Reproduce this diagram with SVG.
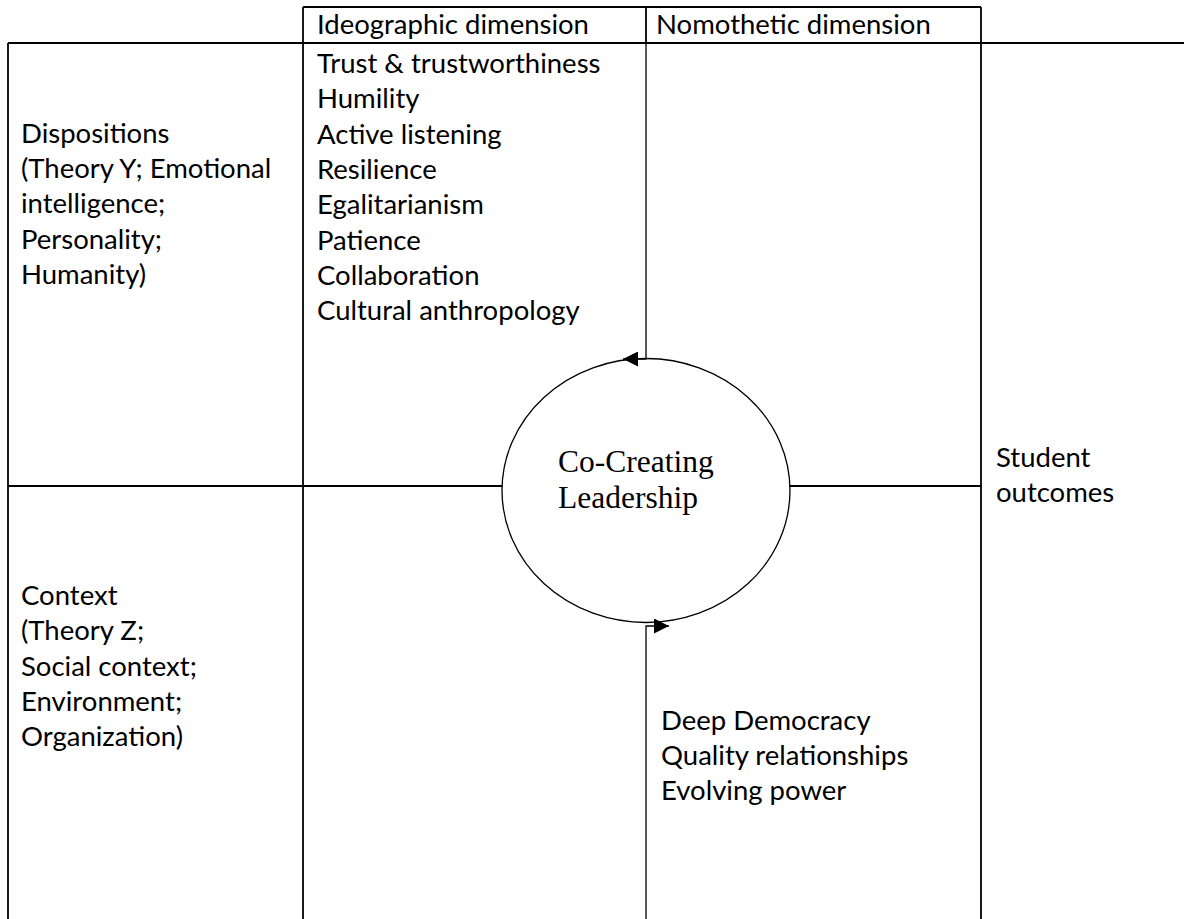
<svg xmlns="http://www.w3.org/2000/svg" width="1184" height="919" viewBox="0 0 1184 919">
  <style>
    .grid { stroke: #000; stroke-width: 1.8; fill: none; }
    .link { stroke: #000; stroke-width: 1.3; fill: none; }
    .t { font-family: Lato, "Liberation Sans", sans-serif; font-size: 27.5px; fill: #000; }
    .core { font-family: "Liberation Serif", "Times New Roman", serif; font-size: 31.5px; fill: #000; }
  </style>
  <defs>
    <marker id="arrow" viewBox="0 0 10 10" refX="10" refY="5" markerWidth="15" markerHeight="15" markerUnits="userSpaceOnUse" orient="auto">
      <path d="M0,0 L10,5 L0,10 z" fill="#000"/>
    </marker>
  </defs>

  <rect width="1184" height="919" fill="#fff"/>

  <!-- table frame -->
  <g id="table" class="grid">
    <line x1="303" y1="7" x2="981" y2="7"/>
    <line x1="8" y1="43" x2="1184" y2="43"/>
    <line x1="8" y1="43" x2="8" y2="919"/>
    <line x1="303" y1="7" x2="303" y2="919"/>
    <line x1="981" y1="7" x2="981" y2="919"/>
    <line x1="646" y1="7" x2="646" y2="43"/>
    <line x1="8" y1="486" x2="502" y2="486"/>
    <line x1="790" y1="486" x2="981" y2="486"/>
  </g>

  <!-- column headers -->
  <g id="header-ideographic">
    <text class="t" x="317" y="34">Ideographic dimension</text>
  </g>
  <g id="header-nomothetic">
    <text class="t" x="656" y="34">Nomothetic dimension</text>
  </g>

  <!-- row labels -->
  <g id="dispositions">
    <text class="t" x="21" y="143">Dispositions</text>
    <text class="t" x="21" y="178">(Theory Y; Emotional</text>
    <text class="t" x="21" y="213">intelligence;</text>
    <text class="t" x="21" y="249">Personality;</text>
    <text class="t" x="21" y="284">Humanity)</text>
  </g>
  <g id="context">
    <text class="t" x="21" y="605">Context</text>
    <text class="t" x="21" y="640">(Theory Z;</text>
    <text class="t" x="21" y="676">Social context;</text>
    <text class="t" x="21" y="711">Environment;</text>
    <text class="t" x="21" y="746">Organization)</text>
  </g>

  <!-- ideographic qualities -->
  <g id="qualities">
    <text class="t" x="317" y="73">Trust &amp; trustworthiness</text>
    <text class="t" x="317" y="108">Humility</text>
    <text class="t" x="317" y="144">Active listening</text>
    <text class="t" x="317" y="179">Resilience</text>
    <text class="t" x="317" y="214">Egalitarianism</text>
    <text class="t" x="317" y="250">Patience</text>
    <text class="t" x="317" y="285">Collaboration</text>
    <text class="t" x="317" y="320">Cultural anthropology</text>
  </g>

  <!-- nomothetic practices -->
  <g id="practices">
    <text class="t" x="661" y="730">Deep Democracy</text>
    <text class="t" x="661" y="765">Quality relationships</text>
    <text class="t" x="661" y="800">Evolving power</text>
  </g>

  <!-- outcome column -->
  <g id="outcomes">
    <text class="t" x="996" y="467">Student</text>
    <text class="t" x="996" y="502">outcomes</text>
  </g>

  <!-- central concept -->
  <g id="co-creating-leadership">
    <ellipse cx="646" cy="490.5" rx="144" ry="132" fill="#fff" stroke="#000" stroke-width="1.3"/>
    <text class="core" x="558" y="472">Co-Creating</text>
    <text class="core" x="558" y="508">Leadership</text>
  </g>

  <!-- connectors into the central circle -->
  <g id="connectors" class="link">
    <path d="M646 43 V359 H623" marker-end="url(#arrow)"/>
    <path d="M646 919 V626 H669" marker-end="url(#arrow)"/>
  </g>
</svg>
